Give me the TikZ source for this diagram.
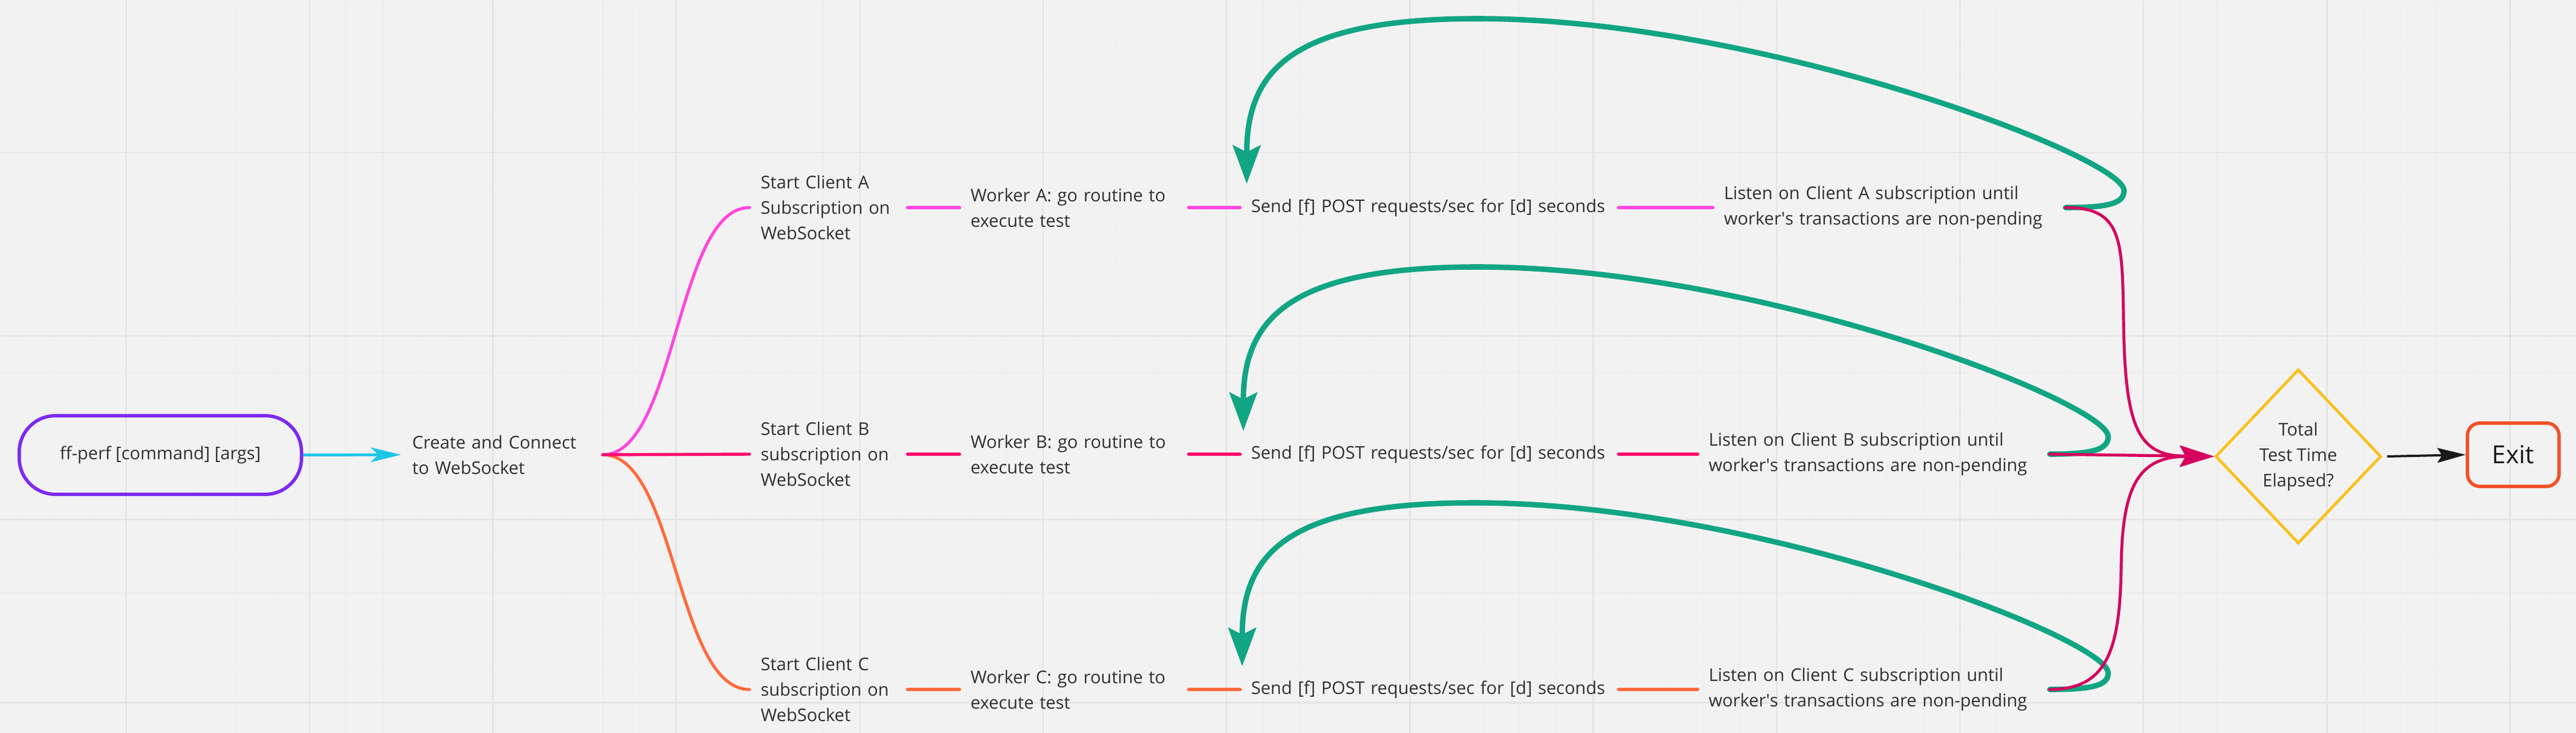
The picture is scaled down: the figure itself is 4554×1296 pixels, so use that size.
\documentclass[tikz,border=0pt]{standalone}
\usepackage{fontspec}
\setmainfont{Open Sans}
\usetikzlibrary{arrows.meta,shapes.geometric}
\definecolor{bgc}{HTML}{F2F2F2}
\definecolor{gminc}{HTML}{EDEDED}
\definecolor{gmajc}{HTML}{E3E3E3}
\definecolor{txtc}{HTML}{303030}
\definecolor{purp}{HTML}{7D2AF0}
\definecolor{cyanc}{HTML}{1DC6E6}
\definecolor{pinka}{HTML}{FF45E0}
\definecolor{pinkb}{HTML}{FF0A6E}
\definecolor{orgc}{HTML}{FF6A3D}
\definecolor{crim}{HTML}{D6005E}
\definecolor{grn}{HTML}{12A584}
\definecolor{yel}{HTML}{F9C11A}
\definecolor{exitc}{HTML}{F2512A}
\definecolor{blk}{HTML}{1A1A1A}
\newcommand\lbx[1]{\mbox{#1}}
\begin{document}
\begin{tikzpicture}[x=0.25pt,y=-0.25pt,
  gmin/.style={gminc,line width=0.3pt},
  gmaj/.style={gmajc,line width=0.6pt},
  txt/.style={font=\fontsize{7.75pt}{11.25pt}\selectfont,text=txtc,inner xsep=4.75pt,inner ysep=0pt,align=left,anchor=west},
  branch/.style={line width=1.35pt,line cap=round},
  seg/.style={line width=1.6pt,line cap=round},
  loopline/.style={grn,line width=2.4pt,line cap=round,-{Stealth[length=17pt,width=12.25pt,inset=3pt]}},
  crimline/.style={crim,line width=1.3pt,line cap=round,-{Stealth[length=15pt,width=9.25pt,inset=2.5pt]}}]
\useasboundingbox (0,0) rectangle (4554,1296);
\fill[bgc] (0,0) rectangle (4554,1296);
% grid
\foreach \i in {0,...,70} \draw[gmin] ({28.5+64.84*\i},0) -- ({28.5+64.84*\i},1296);
\foreach \j in {0,...,19} \draw[gmin] (0,{10.6+64.84*\j}) -- (4554,{10.6+64.84*\j});
\foreach \i in {0,...,13} \draw[gmaj] ({223+324.2*\i},0) -- ({223+324.2*\i},1296);
\foreach \j in {0,...,3} \draw[gmaj] (0,{270+324.2*\j}) -- (4554,{270+324.2*\j});

% nodes
\node[draw=purp,line width=1.5pt,rounded corners=16pt,minimum width=124.75pt,minimum height=34.75pt,inner sep=0pt,font=\fontsize{7.75pt}{11.25pt}\selectfont,text=txtc] (ff) at (283.5,804.5) {ff-perf [command] [args]};
\node[txt,text width=79.25pt] (create) at (709,804) {\lbx{Create and Connect}\\\lbx{to WebSocket}};

\node[txt,text width=60pt] (startA) at (1325,367) {\lbx{Start Client A}\\\lbx{Subscription on}\\\lbx{WebSocket}};
\node[txt,text width=60pt] (startB) at (1325,803) {\lbx{Start Client B}\\\lbx{subscription on}\\\lbx{WebSocket}};
\node[txt,text width=60pt] (startC) at (1325,1219) {\lbx{Start Client C}\\\lbx{subscription on}\\\lbx{WebSocket}};

\node[txt,text width=91.5pt] (workerA) at (1696,367) {\lbx{Worker A: go routine to}\\\lbx{execute test}};
\node[txt,text width=91.5pt] (workerB) at (1696,803) {\lbx{Worker B: go routine to}\\\lbx{execute test}};
\node[txt,text width=91.5pt] (workerC) at (1696,1219) {\lbx{Worker C: go routine to}\\\lbx{execute test}};

\node[txt,text width=157.5pt] (sendA) at (2192,367) {\lbx{Send [f] POST requests/sec for [d] seconds}};
\node[txt,text width=157.5pt] (sendB) at (2192,803) {\lbx{Send [f] POST requests/sec for [d] seconds}};
\node[txt,text width=157.5pt] (sendC) at (2192,1219) {\lbx{Send [f] POST requests/sec for [d] seconds}};

\node[txt,text width=146pt] (listenA) at (3028,367) {\lbx{Listen on Client A subscription until}\\\lbx{worker\textquotesingle s transactions are non-pending}};
\node[txt,text width=145.75pt] (listenB) at (3001,803) {\lbx{Listen on Client B subscription until}\\\lbx{worker\textquotesingle s transactions are non-pending}};
\node[txt,text width=145.75pt] (listenC) at (3001,1219) {\lbx{Listen on Client C subscription until}\\\lbx{worker\textquotesingle s transactions are non-pending}};

\node[diamond,draw=yel,line width=1.25pt,minimum width=73.25pt,minimum height=77pt,inner sep=0pt,align=center,font=\fontsize{7.75pt}{11.25pt}\selectfont,text=txtc] (dia) at (4063,807) {Total\\Test Time\\Elapsed?};
\node[draw=exitc,line width=1.5pt,rounded corners=5.5pt,minimum width=40.5pt,minimum height=28pt,inner sep=0pt,font=\fontsize{11pt}{13pt}\selectfont,text=blk] (exit) at (4443,804) {Exit};

\coordinate (inA) at (2204,325);
\coordinate (inB) at (2198,762);
\coordinate (inC) at (2196,1178);

% connectors
\draw[cyanc,line width=1.25pt,-{Stealth[length=13.5pt,width=6.5pt,inset=3.5pt]}] (ff.east) -- (create.west);

\draw[branch,pinka] (create.east) .. controls +(130,0) and +(-130,0) .. (startA.west);
\draw[branch,orgc] (create.east) .. controls +(130,0) and +(-130,0) .. (startC.west);
\draw[branch,pinkb] (create.east) -- (startB.west);

\draw[seg,pinka] (startA.east) -- (workerA.west);
\draw[seg,pinka] (workerA.east) -- (sendA.west);
\draw[seg,pinka] (sendA.east) -- (listenA.west);
\draw[seg,pinkb] (startB.east) -- (workerB.west);
\draw[seg,pinkb] (workerB.east) -- (sendB.west);
\draw[seg,pinkb] (sendB.east) -- (listenB.west);
\draw[seg,orgc] (startC.east) -- (workerC.west);
\draw[seg,orgc] (workerC.east) -- (sendC.west);
\draw[seg,orgc] (sendC.east) -- (listenC.west);

% loops back
\draw[loopline] (listenA.east) .. controls +(75,0) and (3755,360) .. (3755,337) .. controls (3755,277) and (3112,33) .. (2612,33) .. controls (2282,33) and (2204,125) .. (inA);
\draw[loopline] (listenB.east) .. controls +(75,0) and (3727,795) .. (3727,772) .. controls (3727,712) and (3112,472) .. (2612,472) .. controls (2282,472) and (2198,562) .. (inB);
\draw[loopline] (listenC.east) .. controls +(75,0) and (3727,1212) .. (3727,1190) .. controls (3727,1130) and (3106,889) .. (2606,889) .. controls (2276,889) and (2196,978) .. (inC);

% to decision
\draw[crimline] (listenA.east) .. controls (3750,367) and (3752,420) .. (3754,560) .. controls (3756,760) and (3780,806) .. (dia.west);
\draw[crimline] (listenB.east) -- (dia.west);
\draw[crimline] (listenC.east) .. controls (3725,1219) and (3748,1150) .. (3750,1000) .. controls (3752,860) and (3780,807) .. (dia.west);

\draw[blk,line width=1pt,-{Stealth[length=12.5pt,width=6.5pt,inset=2pt]}] ([xshift=2pt]dia.east) -- (exit.west);
\end{tikzpicture}
\end{document}
